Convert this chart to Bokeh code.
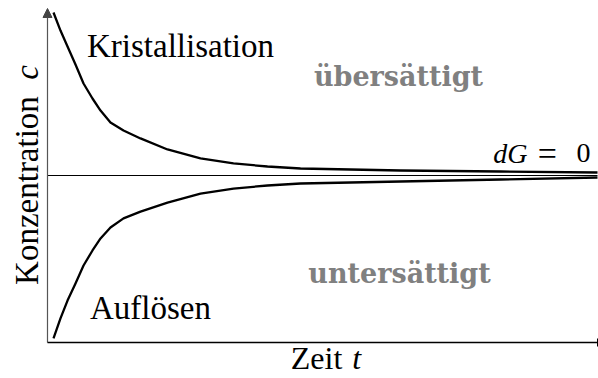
from math import pi
from bokeh.plotting import figure
from bokeh.models import Range1d, Arrow, NormalHead, TeeHead
from bokeh.core.properties import value
from bokeh.embed import file_html
from bokeh.resources import INLINE

# time values (t = 0 .. 10) and concentration relative to equilibrium (c = -1 .. 1)
t_values = [0.109, 0.236, 0.364, 0.509, 0.655, 0.818, 0.964, 1.145, 1.382, 1.691, 2.182, 2.782, 3.382, 4.0, 4.6, 6.418, 8.236, 10.0]
c_upper = [0.976, 0.868, 0.772, 0.665, 0.551, 0.461, 0.389, 0.317, 0.269, 0.222, 0.156, 0.102, 0.072, 0.054, 0.042, 0.030, 0.024, 0.018]
c_lower = [-0.976, -0.856, -0.749, -0.647, -0.539, -0.449, -0.377, -0.311, -0.257, -0.216, -0.162, -0.108, -0.078, -0.060, -0.048, -0.036, -0.024, -0.012]

t_equilibrium = [0.0, 10.0]
c_equilibrium = [0.0, 0.0]

curve_labels = ["Kristallisation", "Auflösen"]
region_labels = ["übersättigt", "untersättigt"]
x_label = ["Zeit", "t"]
y_label = ["Konzentration", "c"]
eq_label = ["dG", "=", "0"]

SERIF = value("Liberation Serif")

p = figure(width=598, height=378, output_backend="svg", toolbar_location=None,
           x_axis_location=None, y_axis_location=None,
           x_range=Range1d(-47 / 55, 10 + 1 / 55),
           y_range=Range1d(-203 / 167, 175 / 167))
p.min_border = 0
p.outline_line_color = None
p.grid.visible = False
p.background_fill_color = "white"
p.border_fill_color = "white"

# axes (drawn through data coordinates)
p.add_layout(Arrow(end=NormalHead(size=9, fill_color="#444444", line_color="#444444"),
                   x_start=0, y_start=-1, x_end=0, y_end=1,
                   line_color="#555555", line_width=1.2))
p.add_layout(Arrow(end=TeeHead(size=8, line_color="black", line_width=1),
                   x_start=0, y_start=-1, x_end=10, y_end=-1,
                   line_color="black", line_width=1.3))

# equilibrium line
p.line(t_equilibrium, c_equilibrium, line_color="black", line_width=1.1)

# curves
p.line(t_values, c_upper, line_color="black", line_width=2.3, line_join="round")
p.line(t_values, c_lower, line_color="black", line_width=2.3, line_join="round")

# curve labels
p.text(x=[2.418, 1.873], y=[0.773, -0.796], text=curve_labels,
       text_font=SERIF, text_font_size="33px", text_color="black",
       text_align="center", text_baseline="alphabetic")

# region labels
p.text(x=[6.382, 6.40], y=[0.593, -0.587], text=region_labels,
       text_font=value("DejaVu Serif"), text_font_style="bold", text_font_size="27px",
       text_color="#808080", text_align="center", text_baseline="alphabetic")

# dG = 0
p.text(x=[8.727], y=[0.132], text=eq_label[:1], text_font=SERIF, text_font_style="italic",
       text_font_size="28px", text_color="black", text_align="right", text_baseline="alphabetic")
p.text(x=[9.09], y=[0.132], text=eq_label[1:2], text_font=SERIF,
       text_font_size="34px", text_color="black", text_align="center", text_baseline="alphabetic")
p.text(x=[9.745], y=[0.132], text=eq_label[2:], text_font=SERIF,
       text_font_size="28px", text_color="black", text_align="center", text_baseline="alphabetic")

# x label
p.text(x=[4.891], y=[-1.090], text=x_label[:1], text_font=SERIF, text_font_size="32px",
       text_color="black", text_align="center", text_baseline="alphabetic")
p.text(x=[5.62], y=[-1.090], text=x_label[1:], text_font=SERIF, text_font_style="italic",
       text_font_size="32px", text_color="black", text_align="center", text_baseline="alphabetic")

# y label
p.text(x=[-0.364], y=[-0.090], text=y_label[:1], angle=pi / 2, text_font=SERIF,
       text_font_size="33px", text_color="black", text_align="center", text_baseline="alphabetic")
p.text(x=[-0.364], y=[0.617], text=y_label[1:], angle=pi / 2, text_font=SERIF,
       text_font_style="italic", text_font_size="33px", text_color="black",
       text_align="center", text_baseline="alphabetic")

open("out.html", "w").write(file_html(p, INLINE))
